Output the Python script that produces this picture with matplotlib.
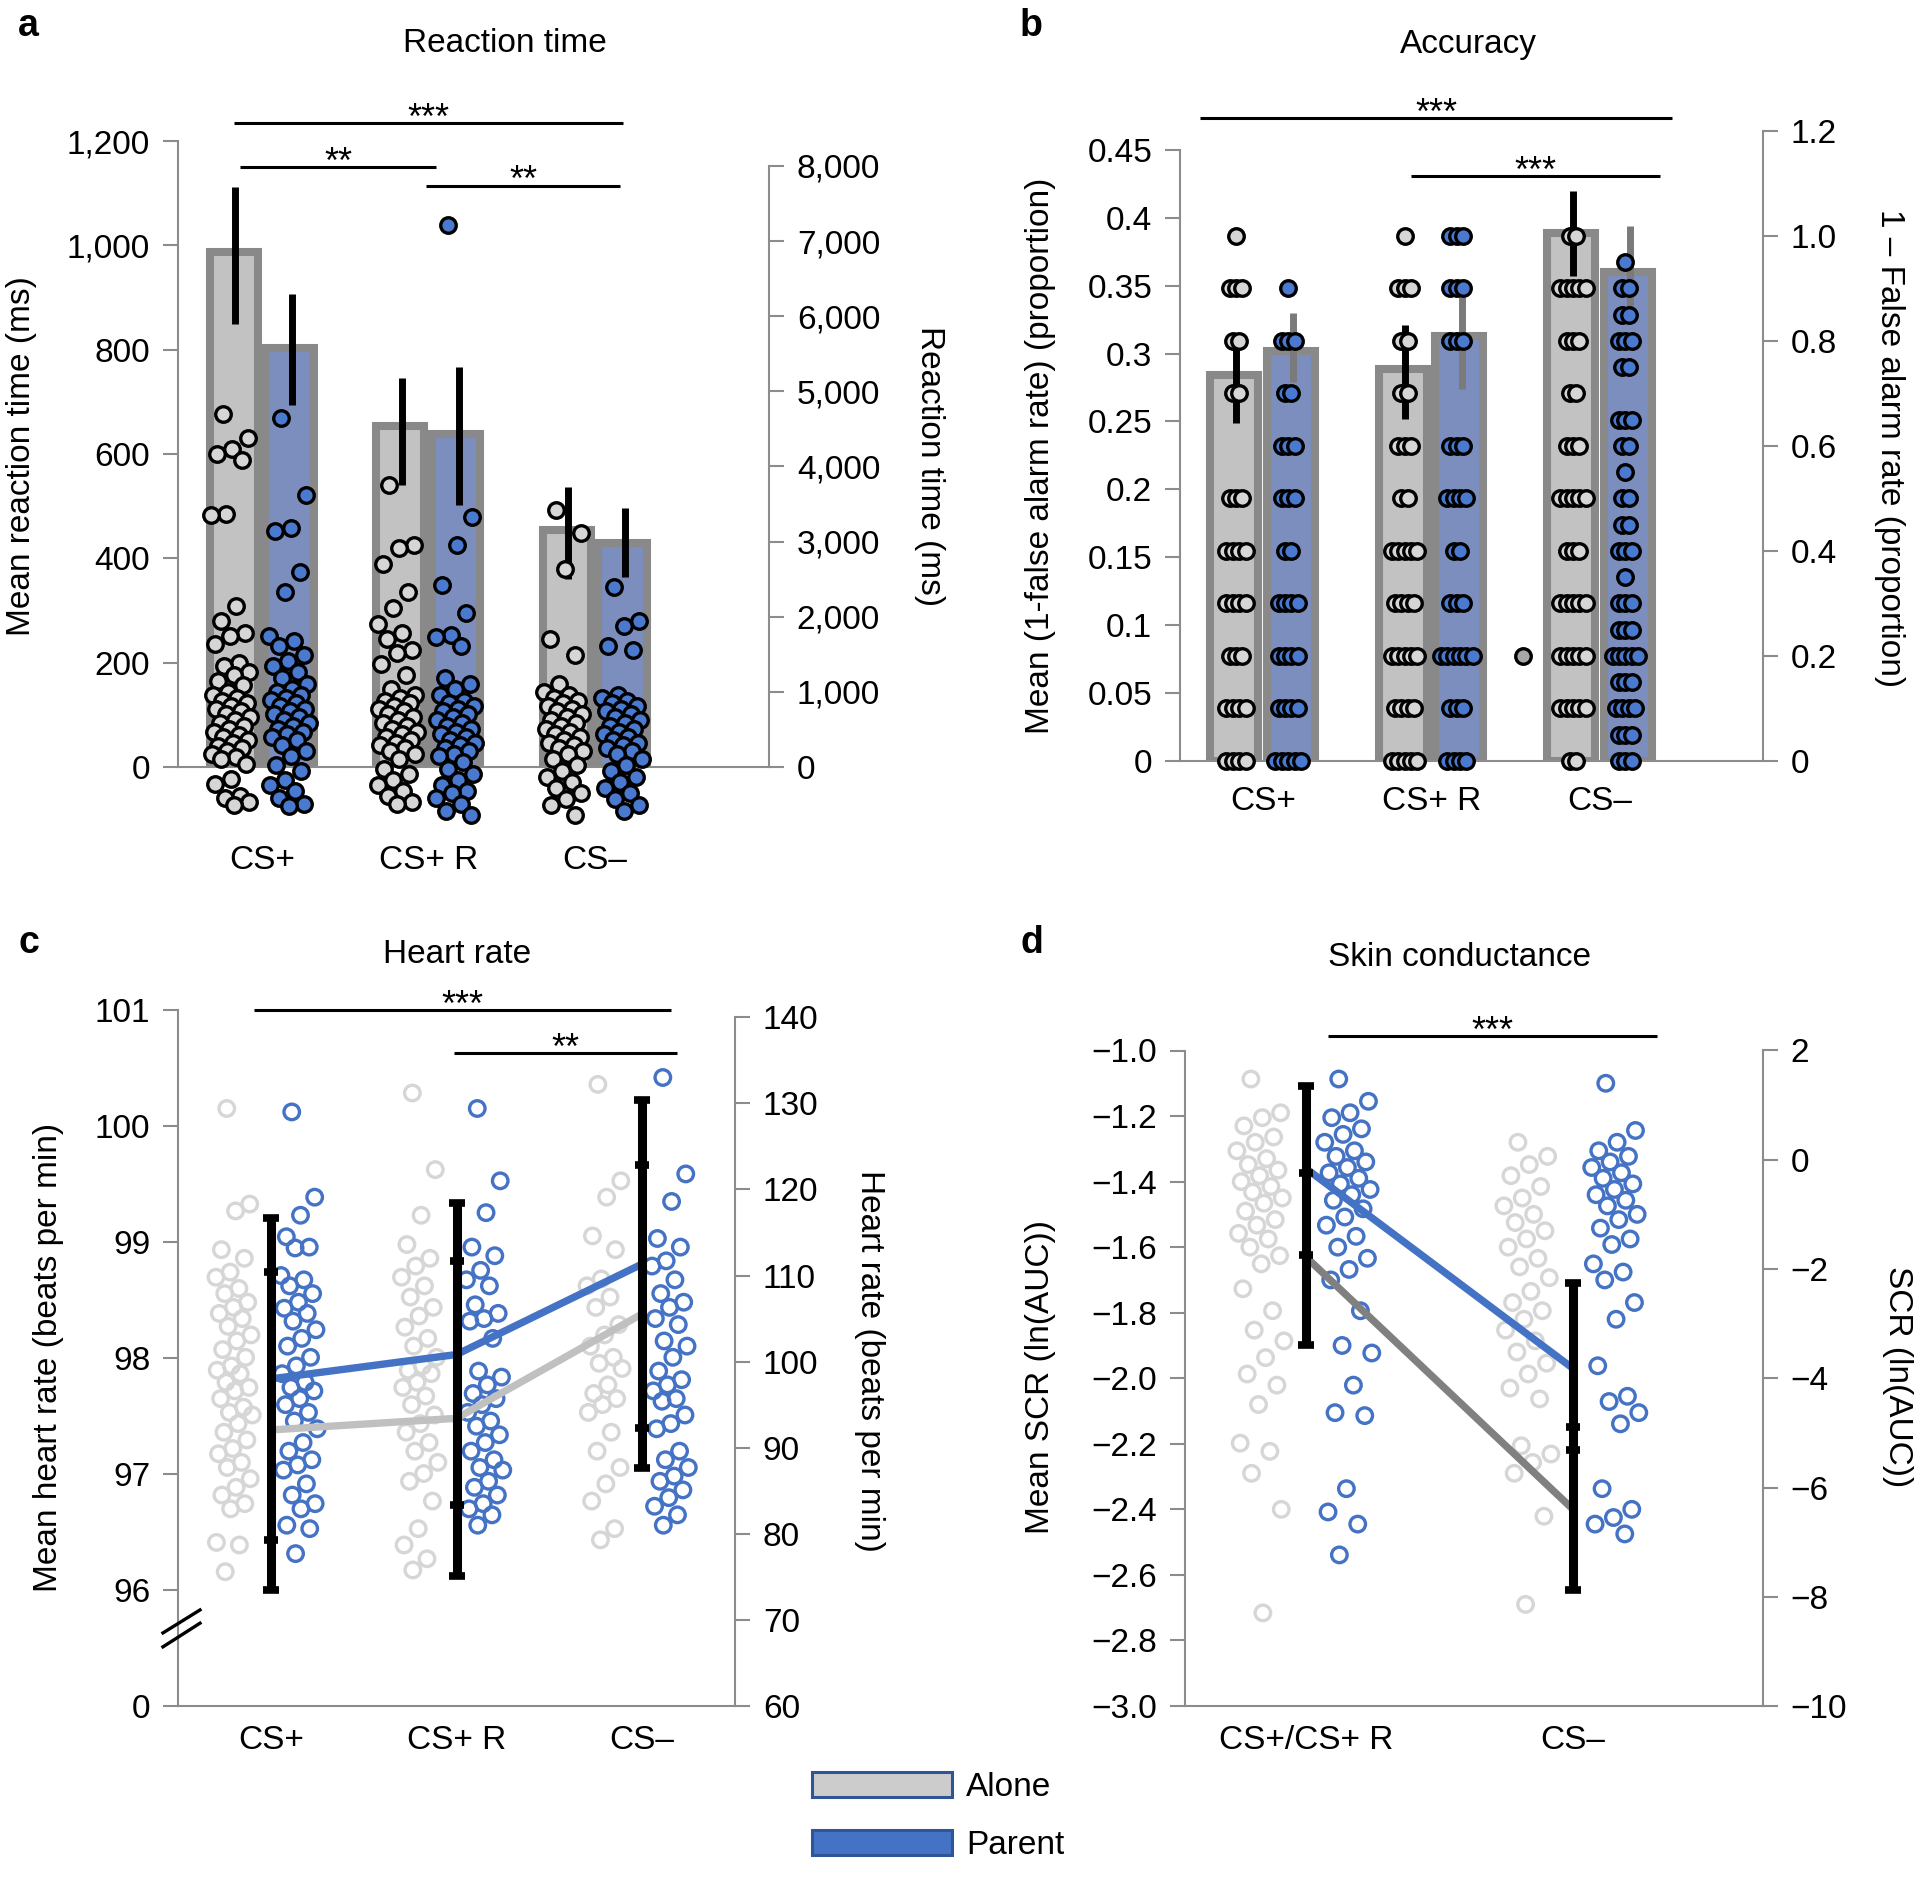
import matplotlib
matplotlib.use('Agg')
import matplotlib.pyplot as plt
from matplotlib.patches import Patch
import numpy as np

# ---------------- data ----------------
cats3 = ['CS+', 'CS+ R', 'CS–']
cats2 = ['CS+/CS+ R', 'CS–']

# Panel a: reaction time
rt_alone_mean = [987, 654, 454]
rt_parent_mean = [803, 639, 430]
rt_alone_lo = [850, 541, 361]
rt_alone_hi = [1111, 745, 536]
rt_parent_lo = [694, 503, 365]
rt_parent_hi = [907, 767, 497]
rt_cs_alone = [4700, 4380, 4230, 4170, 4080, 3370, 3360, 2140, 1940, 1790, 1750, 1640, 1380, 1340,
               1260, 1220, 1150, 1090, 1000, 960, 920, 880, 850, 810, 770, 740, 700, 660, 620, 590,
               550, 510, 470, 430, 400, 360, 320, 280, 250, 210, 170, 130, 100, 40, -160, -230,
               -380, -410, -470, -500]
rt_cs_parent = [4640, 3620, 3180, 3140, 2590, 2330, 1750, 1680, 1610, 1490, 1410, 1340, 1260, 1190,
                1110, 1040, 1000, 960, 920, 890, 850, 810, 770, 740, 700, 660, 620, 590, 550, 510,
                470, 440, 400, 360, 290, 210, 140, 20, -50, -170, -240, -320, -410, -490, -520]
rt_csr_alone = [3760, 2950, 2910, 2700, 2330, 2120, 1900, 1790, 1710, 1560, 1520, 1370, 1220, 1040,
                960, 920, 880, 850, 810, 770, 740, 700, 660, 620, 590, 550, 510, 470, 440, 400, 360,
                320, 290, 250, 210, 170, 100, -20, -90, -170, -240, -320, -390, -470, -490]
rt_csr_parent = [7210, 3330, 2950, 2420, 2050, 1760, 1730, 1610, 1190, 1110, 1040, 960, 880, 850,
                 810, 770, 740, 700, 660, 620, 590, 550, 510, 470, 440, 400, 360, 320, 290, 250,
                 210, 170, 140, 60, -20, -90, -170, -240, -320, -350, -410, -490, -580, -640]
rt_csm_alone = [3420, 3120, 2630, 1710, 1490, 1110, 1000, 960, 920, 880, 850, 810, 770, 740, 700,
                660, 620, 590, 550, 510, 470, 440, 400, 360, 320, 290, 250, 210, 170, 100, 20, -50,
                -130, -200, -280, -350, -430, -500, -640]
rt_csm_parent = [2390, 1940, 1880, 1610, 1560, 960, 920, 880, 850, 810, 770, 740, 700, 660, 620,
                 590, 550, 510, 470, 440, 400, 360, 320, 290, 250, 210, 170, 100, 20, -50, -130,
                 -200, -280, -350, -430, -500, -580]
sig_a = [(-0.17, 2.17, 1234, '***'), (-0.13, 1.045, 1150, '**'), (0.985, 2.15, 1114, '**')]

# Panel b: accuracy
acc_alone_mean = [0.284, 0.289, 0.389]
acc_parent_mean = [0.302, 0.313, 0.360]
acc_alone_lo = [0.249, 0.252, 0.357]
acc_alone_hi = [0.311, 0.321, 0.420]
acc_parent_lo = [0.279, 0.274, 0.326]
acc_parent_hi = [0.330, 0.342, 0.394]
acc_cs_alone = [1.0, 0.9, 0.9, 0.9, 0.8, 0.8, 0.7, 0.7, 0.5, 0.5, 0.5, 0.4, 0.4, 0.4, 0.4,
                0.3, 0.3, 0.3, 0.3, 0.2, 0.2, 0.2, 0.1, 0.1, 0.1, 0.1, 0.0, 0.0, 0.0, 0.0]
acc_cs_parent = [0.9, 0.8, 0.8, 0.8, 0.7, 0.7, 0.6, 0.6, 0.6, 0.5, 0.5, 0.5, 0.4, 0.4,
                 0.3, 0.3, 0.3, 0.3, 0.2, 0.2, 0.2, 0.2, 0.1, 0.1, 0.1, 0.1, 0.0, 0.0, 0.0, 0.0, 0.0]
acc_csr_alone = [1.0, 0.9, 0.9, 0.9, 0.8, 0.8, 0.7, 0.7, 0.6, 0.6, 0.6, 0.5, 0.5, 0.4, 0.4, 0.4,
                 0.4, 0.4, 0.3, 0.3, 0.3, 0.3, 0.2, 0.2, 0.2, 0.2, 0.2, 0.1, 0.1, 0.1, 0.1,
                 0.0, 0.0, 0.0, 0.0, 0.0]
acc_csr_parent = [1.0, 1.0, 1.0, 0.9, 0.9, 0.9, 0.8, 0.8, 0.8, 0.6, 0.6, 0.6, 0.5, 0.5, 0.5, 0.5,
                  0.4, 0.4, 0.3, 0.3, 0.3, 0.2, 0.2, 0.2, 0.2, 0.2, 0.2, 0.1, 0.1, 0.1,
                  0.0, 0.0, 0.0, 0.0]
acc_csm_alone = [1.0, 1.0, 0.9, 0.9, 0.9, 0.9, 0.9, 0.8, 0.8, 0.8, 0.7, 0.7, 0.6, 0.6, 0.6,
                 0.5, 0.5, 0.5, 0.5, 0.5, 0.4, 0.4, 0.4, 0.3, 0.3, 0.3, 0.3, 0.3,
                 0.2, 0.2, 0.2, 0.2, 0.2, 0.1, 0.1, 0.1, 0.1, 0.1, 0.0, 0.0]
acc_csm_parent = [0.95, 0.9, 0.9, 0.85, 0.85, 0.8, 0.8, 0.8, 0.75, 0.75, 0.65, 0.65, 0.65, 0.6, 0.6,
                  0.55, 0.5, 0.5, 0.45, 0.45, 0.4, 0.4, 0.4, 0.35, 0.3, 0.3, 0.3, 0.25, 0.25, 0.25,
                  0.2, 0.2, 0.2, 0.2, 0.2, 0.15, 0.15, 0.15, 0.1, 0.1, 0.1, 0.1,
                  0.05, 0.05, 0.05, 0.0, 0.0, 0.0]
acc_outlier_group = 2
acc_outlier_value = 0.2
sig_b = [(-0.374, 2.427, 0.4735, '***'), (0.878, 2.356, 0.4304, '***')]

# Panel c: heart rate
hr_alone_mean = [97.38, 97.48, 98.38]
hr_parent_mean = [97.82, 98.03, 98.81]
hr_err_low = [96.00, 96.12, 97.05]
hr_err_q1 = [96.43, 96.73, 97.40]
hr_err_q3 = [98.74, 98.84, 99.66]
hr_err_high = [99.21, 99.34, 100.22]
hr_cs_alone = [129.4, 118.3, 117.5, 113.0, 112.0, 110.4, 109.8, 108.5, 107.9, 106.9, 106.3, 105.6,
               105.0, 104.1, 103.1, 102.4, 101.4, 100.5, 99.5, 99.0, 98.6, 97.6, 97.0, 96.6, 95.7,
               94.7, 94.1, 93.8, 92.8, 91.8, 90.9, 89.9, 89.3, 88.3, 87.7, 86.4, 85.4, 84.5, 83.5,
               82.9, 79.0, 78.7, 75.6]
hr_cs_parent = [129.0, 119.1, 117.0, 114.5, 113.3, 113.2, 110.0, 109.5, 108.8, 107.9, 106.9, 106.2,
                105.6, 104.7, 103.7, 102.7, 101.8, 100.5, 99.5, 98.6, 97.6, 97.0, 96.6, 95.7, 95.0,
                94.1, 93.1, 92.2, 90.6, 89.6, 88.6, 88.0, 87.4, 85.8, 84.5, 83.5, 82.9, 81.0, 80.6,
                77.7]
hr_csr_alone = [131.2, 122.3, 117.0, 113.6, 112.0, 111.1, 109.8, 108.8, 107.5, 106.3, 105.3, 104.0,
                102.7, 101.8, 100.5, 99.5, 99.0, 98.6, 97.6, 97.0, 96.0, 95.0, 93.8, 92.8, 91.8,
                90.6, 89.6, 88.3, 87.0, 86.1, 83.8, 80.6, 78.7, 77.1, 75.8]
hr_csr_parent = [129.4, 121.0, 117.3, 113.3, 112.3, 110.6, 109.5, 108.8, 106.6, 105.6, 105.0, 104.7,
                 102.7, 98.9, 98.2, 97.3, 96.3, 95.7, 95.0, 94.1, 93.1, 92.5, 91.5, 90.6, 89.6,
                 88.6, 87.7, 87.4, 86.1, 85.4, 84.5, 83.5, 82.9, 82.2, 81.0]
hr_csm_alone = [132.2, 121.0, 119.1, 114.6, 113.0, 109.6, 108.8, 107.5, 106.3, 104.3, 103.1, 101.8,
                100.5, 99.8, 99.2, 97.3, 96.3, 95.7, 95.0, 94.1, 91.8, 89.6, 87.7, 85.8, 83.8,
                80.6, 79.3]
hr_csm_parent = [133.0, 121.8, 118.6, 114.3, 113.3, 111.7, 111.1, 109.5, 107.9, 106.9, 106.3, 105.0,
                 104.3, 102.4, 101.8, 100.5, 98.9, 97.9, 97.3, 96.6, 95.7, 95.4, 93.8, 92.8, 92.2,
                 89.6, 88.6, 87.7, 86.7, 86.1, 85.1, 84.2, 83.2, 82.2, 81.0]
sig_c = [(-0.092, 2.156, 101.0, '***'), (0.987, 2.19, 100.63, '**')]

# Panel d: skin conductance
scr_alone_mean = [-1.63, -2.40]
scr_parent_mean = [-1.36, -1.97]
scr_err_high = [-1.107, -1.71]
scr_err_q3 = [-1.375, -2.15]
scr_err_q1 = [-1.625, -2.22]
scr_err_low = [-1.90, -2.645]
scr_cs_alone = [-1.087, -1.19, -1.205, -1.23, -1.264, -1.28, -1.306, -1.33, -1.348, -1.365, -1.382,
                -1.40, -1.415, -1.432, -1.45, -1.466, -1.49, -1.516, -1.533, -1.558, -1.575, -1.60,
                -1.626, -1.651, -1.727, -1.794, -1.853, -1.886, -1.937, -1.987, -2.021, -2.08,
                -2.198, -2.223, -2.29, -2.40, -2.716]
scr_cs_parent = [-1.087, -1.155, -1.19, -1.205, -1.239, -1.256, -1.28, -1.306, -1.323, -1.34, -1.357,
                 -1.373, -1.39, -1.407, -1.424, -1.44, -1.457, -1.483, -1.508, -1.533, -1.567, -1.60,
                 -1.634, -1.668, -1.70, -1.794, -1.90, -1.923, -2.021, -2.105, -2.114, -2.337,
                 -2.408, -2.445, -2.539]
scr_csm_alone = [-1.28, -1.323, -1.348, -1.382, -1.415, -1.45, -1.474, -1.50, -1.525, -1.55, -1.575,
                 -1.60, -1.634, -1.66, -1.693, -1.735, -1.769, -1.794, -1.82, -1.853, -1.886, -1.92,
                 -1.954, -1.987, -2.03, -2.063, -2.206, -2.231, -2.257, -2.29, -2.421, -2.69]
scr_csm_parent = [-1.10, -1.244, -1.28, -1.306, -1.323, -1.34, -1.357, -1.373, -1.39, -1.407, -1.424,
                  -1.44, -1.457, -1.474, -1.50, -1.516, -1.542, -1.575, -1.592, -1.651, -1.676, -1.70,
                  -1.769, -1.82, -1.962, -2.055, -2.071, -2.105, -2.139, -2.337, -2.40, -2.425,
                  -2.445, -2.475]
sig_d = [(0.082, 1.315, -0.956, '***')]

legend_labels = ['Alone', 'Parent']

# ---------------- style ----------------
W, H, DPI = 1920, 1878, 100
plt.rcParams['font.family'] = ['Liberation Sans', 'DejaVu Sans']
plt.rcParams['font.size'] = 24
plt.rcParams['axes.unicode_minus'] = True

SPINE = '#8c8c8c'
BAR_GRAY = '#c2c2c2'
BAR_BLUE = '#7b8ebe'
BAR_EDGE = '#898989'
PT_GRAY = '#d6d6d6'
PT_BLUE = '#4a7ad0'
OPEN_GRAY = '#d6d6d6'
BLUE = '#4472c4'
FS = 24
S_FILLED = 125
LW_FILLED = 2.4
S_OPEN = 125
LW_OPEN = 2.4

fig = plt.figure(figsize=(W / DPI, H / DPI), dpi=DPI)


def rect(x0, x1, ytop, ybot):
    return [x0 / W, 1 - ybot / H, (x1 - x0) / W, (ybot - ytop) / H]


def ftext(x, y, s, **kw):
    fig.text(x / W, 1 - y / H, s, **kw)


def jit(n, spread):
    return np.array([((i * 0.6180339887 + 0.31) % 1.0 - 0.5) * 2 * spread for i in range(n)])


def swarm(vals, step):
    vals = np.asarray(vals, dtype=float)
    offs = np.zeros(len(vals))
    for v in np.unique(vals):
        idx = np.where(np.isclose(vals, v))[0]
        k = len(idx)
        offs[idx] = (np.arange(k) - (k - 1) / 2) * step
    return offs


def setup(ax, tw, xpad):
    ax.spines['top'].set_visible(False)
    ax.spines['right'].set_visible(False)
    for s in ['left', 'bottom']:
        ax.spines[s].set_color(SPINE)
        ax.spines[s].set_linewidth(1.5)
    for s in ['top', 'left', 'bottom']:
        tw.spines[s].set_visible(False)
    tw.spines['right'].set_color(SPINE)
    tw.spines['right'].set_linewidth(1.5)
    for a in (ax, tw):
        a.tick_params(axis='y', direction='out', length=11, width=1.5, color=SPINE,
                      pad=9, labelsize=FS)
    ax.tick_params(axis='x', length=0, pad=xpad, labelsize=FS)


def sig(ax, items, dy=-4):
    for x0, x1, y, lab in items:
        ax.plot([x0, x1], [y, y], color='k', lw=2.2, clip_on=False, zorder=6,
                solid_capstyle='butt')
        ax.annotate(lab, xy=((x0 + x1) / 2, y), xytext=(0, dy), textcoords='offset points',
                    ha='center', va='baseline', fontsize=26, annotation_clip=False)


# ---------------- panel a ----------------
axA = fig.add_axes(rect(178, 769, 141, 767))
twA = axA.twinx()
setup(axA, twA, 56)
x3 = np.arange(3)
axA.set_xlim(-0.505, 3.045)
axA.set_ylim(0, 1200)
twA.set_ylim(0, 8332)
twA.spines['right'].set_bounds(0, 8000)
axA.set_yticks(np.arange(0, 1201, 200))
axA.set_yticklabels([f'{v:,}' for v in range(0, 1201, 200)])
twA.set_yticks(np.arange(0, 8001, 1000))
twA.set_yticklabels([f'{v:,}' for v in range(0, 8001, 1000)])
axA.set_xticks(x3)
axA.set_xticklabels(cats3)
axA.bar(x3 - 0.17, rt_alone_mean, width=0.29, color=BAR_GRAY, edgecolor=BAR_EDGE,
        linewidth=5.8, zorder=2)
axA.bar(x3 + 0.165, rt_parent_mean, width=0.29, color=BAR_BLUE, edgecolor=BAR_EDGE,
        linewidth=5.8, zorder=2)
axA.vlines(x3 - 0.16, rt_alone_lo, rt_alone_hi, color='k', lw=5, zorder=3)
axA.vlines(x3 + 0.18, rt_parent_lo, rt_parent_hi, color='k', lw=5, zorder=3)
for g, (pa, pp) in enumerate([(rt_cs_alone, rt_cs_parent), (rt_csr_alone, rt_csr_parent),
                              (rt_csm_alone, rt_csm_parent)]):
    twA.scatter(g - 0.19 + jit(len(pa), 0.12), pa, s=S_FILLED, facecolor=PT_GRAY, edgecolor='k',
                linewidths=LW_FILLED, clip_on=False, zorder=4)
    twA.scatter(g + 0.16 + jit(len(pp), 0.12), pp, s=S_FILLED, facecolor=PT_BLUE, edgecolor='k',
                linewidths=LW_FILLED, clip_on=False, zorder=4)
sig(axA, sig_a)

# ---------------- panel b ----------------
axB = fig.add_axes(rect(1180, 1763, 131, 761))
twB = axB.twinx()
setup(axB, twB, 18)
axB.set_xlim(-0.4926, 2.967)
axB.set_ylim(0, 0.4639)
axB.spines['left'].set_bounds(0, 0.45)
twB.set_ylim(0, 1.2)
lt = [0, 0.05, 0.1, 0.15, 0.2, 0.25, 0.3, 0.35, 0.4, 0.45]
axB.set_yticks(lt)
axB.set_yticklabels(['0', '0.05', '0.1', '0.15', '0.2', '0.25', '0.3', '0.35', '0.4', '0.45'])
twB.set_yticks([0, 0.2, 0.4, 0.6, 0.8, 1.0, 1.2])
twB.set_yticklabels(['0', '0.2', '0.4', '0.6', '0.8', '1.0', '1.2'])
axB.set_xticks(x3)
axB.set_xticklabels(cats3)
axB.bar(x3 - 0.17, acc_alone_mean, width=0.285, color=BAR_GRAY, edgecolor=BAR_EDGE,
        linewidth=5.8, zorder=2)
axB.bar(x3 + 0.165, acc_parent_mean, width=0.285, color=BAR_BLUE, edgecolor=BAR_EDGE,
        linewidth=5.8, zorder=2)
axB.vlines(x3 - 0.16, acc_alone_lo, acc_alone_hi, color='k', lw=5, zorder=3)
axB.vlines(x3 + 0.18, acc_parent_lo, acc_parent_hi, color='#7a7a7a', lw=5, zorder=3)
for g, (pa, pp) in enumerate([(acc_cs_alone, acc_cs_parent), (acc_csr_alone, acc_csr_parent),
                              (acc_csm_alone, acc_csm_parent)]):
    twB.scatter(g - 0.16 + swarm(pa, 0.038), pa, s=S_FILLED, facecolor=PT_GRAY, edgecolor='k',
                linewidths=LW_FILLED, clip_on=False, zorder=4)
    twB.scatter(g + 0.15 + swarm(pp, 0.038), pp, s=S_FILLED, facecolor=PT_BLUE, edgecolor='k',
                linewidths=LW_FILLED, clip_on=False, zorder=4)
twB.scatter([acc_outlier_group - 0.46], [acc_outlier_value], s=S_FILLED, facecolor='#a8a8a8',
            edgecolor='k', linewidths=LW_FILLED, clip_on=False, zorder=4)
sig(axB, sig_b)

# ---------------- panel c ----------------
axC = fig.add_axes(rect(178, 735, 1010, 1706))
twC = axC.twinx()
setup(axC, twC, 14)
axC.set_zorder(twC.get_zorder() + 1)
axC.patch.set_visible(False)
axC.set_xlim(-0.501, 2.501)
axC.set_ylim(95, 101)
axC.set_yticks([95, 96, 97, 98, 99, 100, 101])
axC.set_yticklabels(['0', '96', '97', '98', '99', '100', '101'])
twC.set_ylim(60, 140.84)
twC.spines['right'].set_bounds(60, 140)
twC.set_yticks(np.arange(60, 141, 10))
axC.set_xticks(x3)
axC.set_xticklabels(cats3)
for g, (pa, pp) in enumerate([(hr_cs_alone, hr_cs_parent), (hr_csr_alone, hr_csr_parent),
                              (hr_csm_alone, hr_csm_parent)]):
    twC.scatter(g - 0.2 + jit(len(pa), 0.10), pa, s=S_OPEN, facecolor='none', edgecolor=OPEN_GRAY,
                linewidths=LW_OPEN, zorder=2)
    twC.scatter(g + 0.15 + jit(len(pp), 0.10), pp, s=S_OPEN, facecolor='none', edgecolor=BLUE,
                linewidths=LW_OPEN, zorder=2)
axC.plot(x3, hr_alone_mean, color='#c0c0c0', lw=5.3, solid_capstyle='butt', zorder=3)
axC.plot(x3, hr_parent_mean, color=BLUE, lw=5.3, solid_capstyle='butt', zorder=3)
axC.vlines(x3, hr_err_low, hr_err_high, color='k', lw=6.5, zorder=4)
for arr, ms in [(hr_err_low, 12), (hr_err_high, 12), (hr_err_q1, 10), (hr_err_q3, 10)]:
    axC.plot(x3, arr, ls='none', marker='_', ms=ms, mew=5.5, color='k', zorder=4)
for (ya, yb) in [(0.105, 0.138), (0.085, 0.119)]:
    axC.plot([-0.027, 0.0395], [ya, yb], transform=axC.transAxes, color='k', lw=2.4,
             clip_on=False, zorder=6)
sig(axC, sig_c)

# ---------------- panel d ----------------
axD = fig.add_axes(rect(1185, 1763, 1050.5, 1706))
twD = axD.twinx()
setup(axD, twD, 14)
axD.set_zorder(twD.get_zorder() + 1)
axD.patch.set_visible(False)
x2 = np.arange(2)
axD.set_xlim(-0.453, 1.7116)
axD.set_ylim(-3.0, -1.0)
dt = np.round(np.arange(-3.0, -0.99, 0.2), 1)
axD.set_yticks(dt)
axD.set_yticklabels([f'{v:.1f}'.replace('-', '\u2212') for v in dt])
twD.set_ylim(-10, 2)
rt_ticks = np.arange(-10, 3, 2)
twD.set_yticks(rt_ticks)
twD.set_yticklabels([str(v).replace('-', '\u2212') for v in rt_ticks])
axD.set_xticks(x2)
axD.set_xticklabels(cats2)
for g, (pa, pp) in enumerate([(scr_cs_alone, scr_cs_parent), (scr_csm_alone, scr_csm_parent)]):
    axD.scatter(g - 0.172 + jit(len(pa), 0.09), pa, s=S_OPEN, facecolor='none', edgecolor=OPEN_GRAY,
                linewidths=LW_OPEN, zorder=2)
    axD.scatter(g + 0.157 + jit(len(pp), 0.09), pp, s=S_OPEN, facecolor='none', edgecolor=BLUE,
                linewidths=LW_OPEN, zorder=2)
axD.plot(x2, scr_alone_mean, color='#808080', lw=5.3, solid_capstyle='butt', zorder=3)
axD.plot(x2, scr_parent_mean, color=BLUE, lw=5.3, solid_capstyle='butt', zorder=3)
axD.vlines(x2, scr_err_low, scr_err_high, color='k', lw=6.5, zorder=4)
for arr, ms in [(scr_err_low, 12), (scr_err_high, 12), (scr_err_q1, 10), (scr_err_q3, 10)]:
    axD.plot(x2, arr, ls='none', marker='_', ms=ms, mew=5.5, color='k', zorder=4)
sig(axD, sig_d)

# ---------------- titles, labels ----------------
ftext(505, 44, 'Reaction time', ha='center', va='center', fontsize=FS)
ftext(1468, 44, 'Accuracy', ha='center', va='center', fontsize=FS)
ftext(457, 955, 'Heart rate', ha='center', va='center', fontsize=FS)
ftext(1460, 957, 'Skin conductance', ha='center', va='center', fontsize=FS)
for x, y, s in [(18, 26, 'a'), (1020, 26, 'b'), (18, 943, 'c'), (1020, 943, 'd')]:
    ftext(x, y, s, ha='left', va='center', fontsize=27, fontweight='bold')

ftext(22, 456, 'Mean reaction time (ms)', rotation=90, ha='center', va='center', fontsize=FS)
ftext(929, 466, 'Reaction time (ms)', rotation=270, ha='center', va='center', fontsize=FS)
ftext(1040, 456, 'Mean (1-false alarm rate) (proportion)', rotation=90, ha='center',
      va='center', fontsize=FS)
ftext(1890, 448, '1 – False alarm rate (proportion)', rotation=270, ha='center', va='center',
      fontsize=FS)
ftext(49, 1357, 'Mean heart rate (beats per min)', rotation=90, ha='center', va='center',
      fontsize=FS)
ftext(869, 1361, 'Heart rate (beats per min)', rotation=270, ha='center', va='center',
      fontsize=FS)
ftext(1040, 1377, 'Mean SCR (ln(AUC))', rotation=90, ha='center', va='center', fontsize=FS)
ftext(1898, 1377, 'SCR (ln(AUC))', rotation=270, ha='center', va='center', fontsize=FS)

# ---------------- legend ----------------
handles = [Patch(facecolor='#cccccc', edgecolor='#2f5597', linewidth=2.2, label=legend_labels[0]),
           Patch(facecolor=BLUE, edgecolor='#2f5597', linewidth=2.2, label=legend_labels[1])]
fig.legend(handles=handles, loc='upper left', bbox_to_anchor=(812 / W, 1 - 1772 / H),
           frameon=False, handlelength=4.2, handleheight=0.78, handletextpad=0.42,
           labelspacing=0.8, borderpad=0, borderaxespad=0, fontsize=FS)

fig.savefig('out.png', dpi=DPI)
